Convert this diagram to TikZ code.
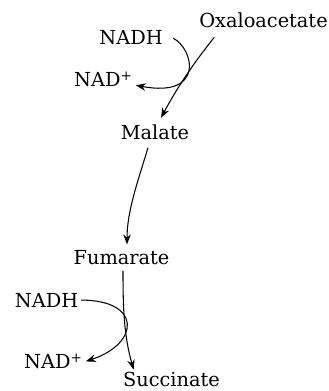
\documentclass[tikz,border=0pt]{standalone}
\usepackage{fontspec}
\setmainfont{DejaVu Serif}
\usetikzlibrary{arrows.meta}

\begin{document}
\begin{tikzpicture}[
    every node/.style={font=\fontsize{11}{13}\selectfont, inner sep=1.5pt},
    metab/.style={anchor=base},
    cofactor/.style={anchor=base},
    flow/.style={-{Stealth[length=2mm,width=1.5mm]}, line width=0.6pt}
]
\useasboundingbox (0,0) rectangle (6.58,7.82);
\node[metab] (oxa) at (5.27,7.26) {Oxaloacetate};
\node[metab] (mal) at (3.10,5.02) {Malate};
\node[metab] (fum) at (2.43,2.52) {Fumarate};
\node[metab] (suc) at (3.43,0.08) {Succinate};
\node[cofactor] (nadh1) at (2.62,6.92) {NADH};
\node[cofactor] (nad1) at (2.07,6.08) {NAD\textsuperscript{+}};
\node[cofactor] (nadh2) at (0.93,1.68) {NADH};
\node[cofactor] (nad2) at (1.07,0.44) {NAD\textsuperscript{+}};
% reduction of oxaloacetate
\draw[flow] ([xshift=0.36cm,yshift=-0.12cm]oxa.south west) .. controls +(-0.45,-0.56) and +(0.3,0.56) .. ([xshift=0.12cm,yshift=0.09cm]mal.north);
\draw[flow] ([xshift=0.15cm]nadh1.east) .. controls +(0.42,-0.22) and +(1.38,-0.26) .. ([yshift=0.1cm]nad1.south east);
% dehydration
\draw[flow] ([xshift=-0.14cm,yshift=-0.09cm]mal.south) .. controls +(-0.2,-0.66) and +(0,0.66) .. ([xshift=0.11cm,yshift=0.07cm]fum.north);
% reduction of fumarate
\draw[flow] ([xshift=0.03cm,yshift=-0.05cm]fum.south) .. controls +(0,-0.7) and +(-0.2,0.7) .. ([xshift=0.27cm]suc.north west);
\draw[flow] (nadh2.east) .. controls +(1.22,0) and +(1.08,0.36) .. (nad2.east);
\end{tikzpicture}
\end{document}
